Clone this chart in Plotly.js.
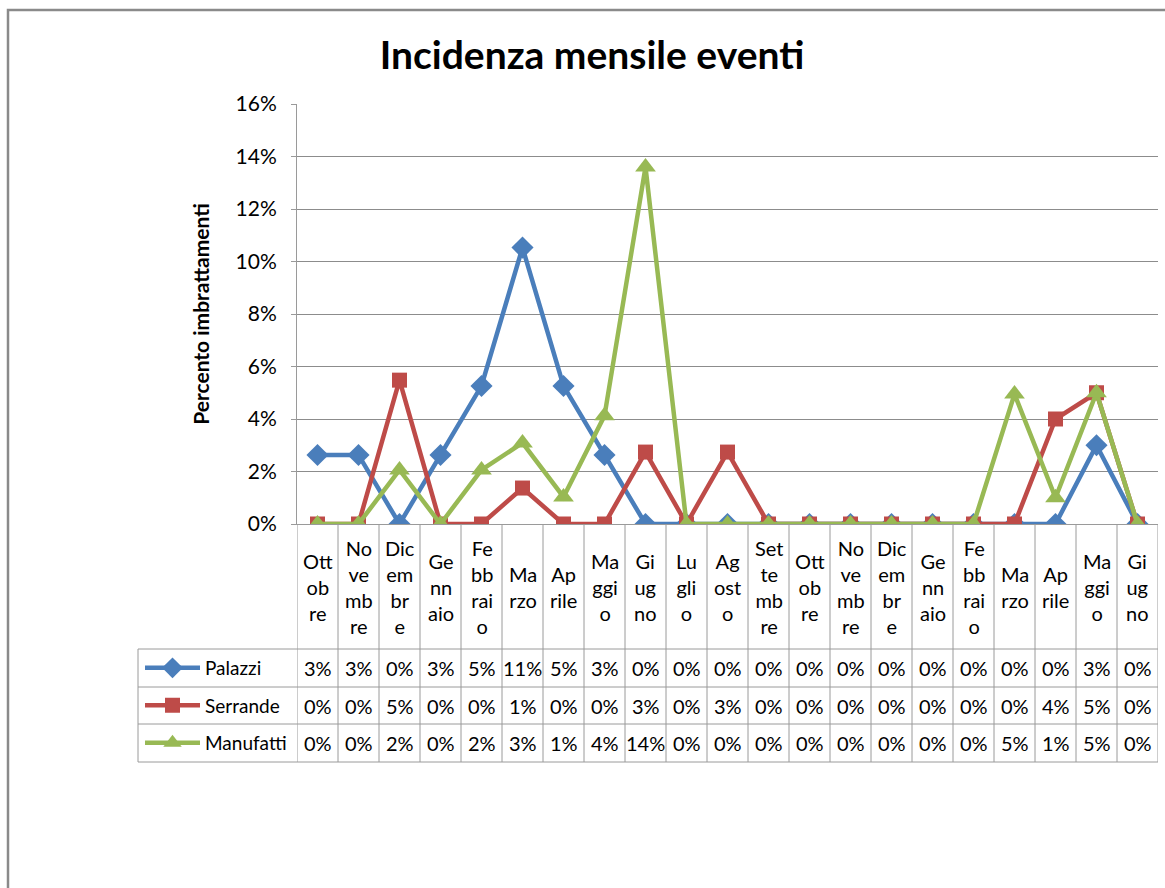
<!DOCTYPE html>
<html>
<head>
<meta charset="utf-8">
<script src="https://cdn.plot.ly/plotly-3.0.1.min.js"></script>
<style>
  html, body { margin: 0; padding: 0; background: #fff; }
  #chart { width: 1165px; height: 888px; }
</style>
</head>
<body>
<div id="chart"></div>
<script>
// ---- Data ----
const months = ["Ottobre","Novembre","Dicembre","Gennaio","Febbraio","Marzo","Aprile","Maggio","Giugno","Luglio","Agosto","Settembre",
                "Ottobre","Novembre","Dicembre","Gennaio","Febbraio","Marzo","Aprile","Maggio","Giugno"];
const monthLabels = ["Ott<br>ob<br>re","No<br>ve<br>mb<br>re","Dic<br>em<br>br<br>e","Ge<br>nn<br>aio","Fe<br>bb<br>rai<br>o","Ma<br>rzo","Ap<br>rile","Ma<br>ggi<br>o","Gi<br>ug<br>no","Lu<br>gli<br>o","Ag<br>ost<br>o","Set<br>te<br>mb<br>re",
                     "Ott<br>ob<br>re","No<br>ve<br>mb<br>re","Dic<br>em<br>br<br>e","Ge<br>nn<br>aio","Fe<br>bb<br>rai<br>o","Ma<br>rzo","Ap<br>rile","Ma<br>ggi<br>o","Gi<br>ug<br>no"];
const seriesNames = ["Palazzi","Serrande","Manufatti"];
const palazzi   = [2.63,2.63,0,2.63,5.26,10.53,5.26,2.63,0,0,0,0,0,0,0,0,0,0,0,3.0,0];
const serrande  = [0,0,5.48,0,0,1.37,0,0,2.74,0,2.74,0,0,0,0,0,0,0,4.0,5.0,0];
const manufatti = [0,0,2.06,0,2.06,3.09,1.03,4.12,13.6,0,0,0,0,0,0,0,0,4.95,1.0,5.0,0];
const yTickVals = [0,2,4,6,8,10,12,14,16];
const yTickText = ["0%","2%","4%","6%","8%","10%","12%","14%","16%"];

// ---- Layout geometry (pixels -> paper) ----
const W = 1165, H = 888;
const PL = 297, PR = 1158, PT = 104, PB = 524;
const px = v => (v - PL) / (PR - PL);
const py = v => (PB - v) / (PB - PT);

const colors = ["#4A7EBB", "#BE4B48", "#98B954"];
const symbols = ["diamond", "square", "triangle-up"];
const sizes = [17, 15, 18];
const allSeries = [palazzi, serrande, manufatti];
const FONT = "Lato, 'Open Sans', sans-serif";
const xIdx = months.map((m, i) => i);

const legendIds = ["legend", "legend2", "legend3"];
const rowTop = [649, 687, 724];
const rowBot = [687, 724, 762];

const traces = allSeries.map((s, k) => ({
  x: xIdx,
  y: s,
  customdata: months,
  type: "scatter",
  mode: "lines+markers",
  name: seriesNames[k],
  legend: legendIds[k],
  line: { color: colors[k], width: 4.5 },
  marker: { symbol: symbols[k], size: sizes[k], color: colors[k] },
  hovertemplate: "%{customdata}: %{y:.1f}%<extra>" + seriesNames[k] + "</extra>"
}));

const shapes = [];
const annotations = [];
const gridCol = "#9a9a9a";

// Outer chart frame
shapes.push({ type: "rect", xref: "paper", yref: "paper",
  x0: px(8), x1: px(1180), y0: py(10), y1: py(900),
  line: { color: "#8a8a8a", width: 2.5 }, fillcolor: "rgba(0,0,0,0)", layer: "below" });

// Vertical table lines (category boundaries)
for (let i = -1; i < months.length; i++) {
  shapes.push({ type: "line", xref: "x", yref: "paper",
    x0: i + 0.5, x1: i + 0.5, y0: py(PB), y1: py(762),
    line: { color: gridCol, width: 1 } });
}
// Legend column left border
shapes.push({ type: "line", xref: "paper", yref: "paper",
  x0: px(138), x1: px(138), y0: py(649), y1: py(762), line: { color: gridCol, width: 1 } });
// Horizontal table lines
[649, 687, 724, 762].forEach(yy => {
  shapes.push({ type: "line", xref: "paper", yref: "paper",
    x0: px(138), x1: 1, y0: py(yy), y1: py(yy), line: { color: gridCol, width: 1 } });
});

// Category labels
monthLabels.forEach((lab, i) => {
  annotations.push({ xref: "x", yref: "paper", x: i, y: py((PB + 649) / 2),
    text: lab, showarrow: false, xanchor: "center", yanchor: "middle",
    font: { family: FONT, size: 20, color: "#000" } });
});
// Table values
allSeries.forEach((s, k) => {
  s.forEach((v, i) => {
    annotations.push({ xref: "x", yref: "paper", x: i, y: py((rowTop[k] + rowBot[k]) / 2),
      text: Math.round(v) + "%", showarrow: false, xanchor: "center", yanchor: "middle",
      font: { family: FONT, size: 20, color: "#000" } });
  });
});

const layout = {
  width: W, height: H,
  margin: { l: PL, r: W - PR, t: PT, b: H - PB, pad: 0 },
  paper_bgcolor: "#fff",
  plot_bgcolor: "#fff",
  font: { family: FONT, size: 20, color: "#000" },
  title: { text: "<b>Incidenza mensile eventi</b>", font: { family: FONT, size: 39, color: "#000" },
    x: 592 / W, xanchor: "center", y: 1 - 55 / H, yanchor: "middle" },
  xaxis: {
    range: [-0.5, months.length - 0.5],
    showticklabels: false, ticks: "", showgrid: false, zeroline: false,
    showline: true, linecolor: gridCol, linewidth: 1, fixedrange: true
  },
  yaxis: {
    range: [0, 16], tickvals: yTickVals, ticktext: yTickText,
    ticks: "outside", ticklen: 5, tickcolor: gridCol, ticklabelstandoff: 10,
    showgrid: true, gridcolor: "#8c8c8c", gridwidth: 1, zeroline: false,
    showline: true, linecolor: gridCol, linewidth: 1,
    tickfont: { family: FONT, size: 21, color: "#000" },
    title: { text: "<b>Percento imbrattamenti</b>", font: { family: FONT, size: 21, color: "#000" }, standoff: 20 },
    automargin: false, fixedrange: true
  },
  showlegend: true,
  shapes: shapes,
  annotations: annotations
};
legendIds.forEach((id, k) => {
  layout[id] = { x: px(140), xanchor: "left", y: py((rowTop[k] + rowBot[k]) / 2), yanchor: "middle",
    bgcolor: "rgba(0,0,0,0)", borderwidth: 0, itemwidth: 55,
    font: { family: FONT, size: 19, color: "#000" },
    itemclick: false, itemdoubleclick: false };
});

Plotly.newPlot("chart", traces, layout, { displayModeBar: false });
</script>
</body>
</html>
